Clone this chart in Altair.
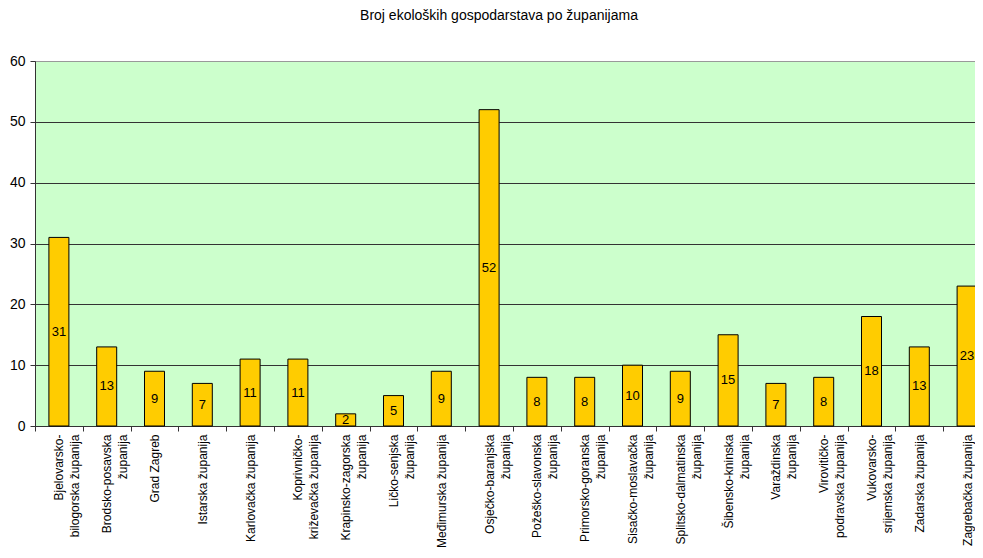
import altair as alt
import pandas as pd

labels = [
    "Bjelovarsko-|bilogorska županija",
    "Brodsko-posavska|županija",
    "Grad Zagreb",
    "Istarska županija",
    "Karlovačka županija",
    "Koprivničko-|križevačka županija",
    "Krapinsko-zagorska|županija",
    "Ličko-senjska|županija",
    "Međimurska županija",
    "Osječko-baranjska|županija",
    "Požeško-slavonska|županija",
    "Primorsko-goranska|županija",
    "Sisačko-moslavačka|županija",
    "Splitsko-dalmatinska|županija",
    "Šibensko-kninska|županija",
    "Varaždinska|županija",
    "Virovitičko-|podravska županija",
    "Vukovarsko-|srijemska županija",
    "Zadarska županija",
    "Zagrebačka županija",
]
values = [31, 13, 9, 7, 11, 11, 2, 5, 9, 52, 8, 8, 10, 9, 15, 7, 8, 18, 13, 23]

n = len(labels)
df = pd.DataFrame({
    "zupanija": labels,
    "broj": values,
    "pos": [i + 0.5 for i in range(n)],
})

FONT = "Liberation Sans"
WIDTH = 940
STEP = 47.8  # category step in pixels (plot runs past the right edge)

names_js = "[" + ",".join("'" + s + "'" for s in labels) + "]"

x_scale = alt.Scale(domain=[0, WIDTH / STEP], nice=False, zero=False, padding=0)

x_enc = alt.X(
    "pos:Q",
    title=None,
    scale=x_scale,
    axis=alt.Axis(
        values=list(range(n)),
        labelExpr="split(" + names_js + "[datum.value], '|')",
        labelAngle=270,
        labelAlign="right",
        labelBaseline="middle",
        labelOffset=STEP / 2,
        labelLineHeight=16,
        labelFont=FONT,
        labelFontSize=12,
        labelColor="black",
        labelLimit=300,
        labelOverlap=False,
        labelFlush=False,
        labelPadding=3,
        tickSize=5,
        tickColor="#333",
        domainColor="#333",
        grid=False,
    ),
)

y_enc = alt.Y(
    "broj:Q",
    title=None,
    scale=alt.Scale(domain=[0, 60]),
    axis=alt.Axis(
        values=[0, 10, 20, 30, 40, 50, 60],
        labelFont=FONT,
        labelFontSize=14,
        labelColor="black",
        labelPadding=5,
        tickSize=5,
        tickColor="#333",
        domainColor="#333",
        gridColor={"condition": {"test": "datum.value === 60", "value": "#999999"}, "value": "#333333"},
        gridWidth=1,
    ),
)

bars = alt.Chart(df).mark_bar(
    size=20, color="#FFCC00", stroke="black", strokeWidth=1, orient="vertical"
).encode(x=x_enc, y=y_enc)

text = alt.Chart(df).transform_calculate(
    mid="datum.broj / 2"
).mark_text(
    font=FONT, fontSize=13, color="black", baseline="middle", align="center"
).encode(
    x=alt.X("pos:Q", scale=x_scale),
    y=alt.Y("mid:Q"),
    text="broj:Q",
)

chart = (
    alt.layer(bars, text)
    .properties(
        width=WIDTH,
        height=365,
        autosize=alt.AutoSizeParams(type="none"),
        padding={"left": 27, "top": 53, "right": 0, "bottom": 124},
        title=alt.TitleParams(
            "Broj ekoloških gospodarstava po županijama",
            font=FONT,
            fontSize=14,
            fontWeight="normal",
            color="black",
            anchor="middle",
            frame="group",
            dx=-6,
            offset=31,
        ),
    )
    .configure_view(fill="#CCFFCC", stroke="#999999")
)

chart.save("out.html", embed_options={"renderer": "svg", "actions": False})
